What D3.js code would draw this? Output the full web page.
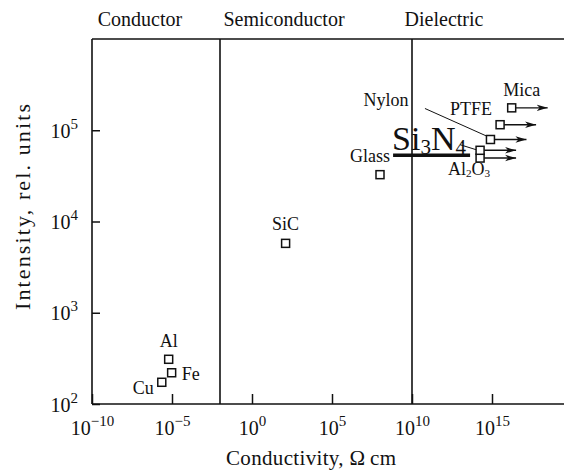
<!DOCTYPE html>
<html>
<head>
<meta charset="utf-8">
<script src="https://cdn.jsdelivr.net/npm/d3@7/dist/d3.min.js"></script>
<style>
  html, body { margin: 0; padding: 0; background: #fff; }
  svg { display: block; }
  text { font-family: "Liberation Serif", "Times New Roman", serif; fill: #111; }
</style>
</head>
<body>
<svg id="chart" width="564" height="470"></svg>
<script>
// Materials: resistivity (Ω cm) and emission intensity (rel. units)
const materials   = ["Cu", "Fe", "Al", "SiC", "Glass", "Al2O3", "Si3N4", "Nylon", "PTFE", "Mica"];
const resistivity = [2.3e-6, 9.5e-6, 6.2e-6, 126, 1.0e8, 1.8e14, 1.8e14, 8.0e14, 3.2e15, 1.7e16];
const intensity   = [173, 220, 309, 5760, 32600, 49600, 60300, 79200, 115000, 176000];
// true where the resistivity is only a lower bound (drawn with an arrow)
const lowerBound  = [false, false, false, false, false, true, true, true, true, true];

// Material classes: names, where each name sits, and the class boundaries
const regions       = ["Conductor", "Semiconductor", "Dielectric"];
const regionCentres = [1e-7, 1e2, 1e12];
const regionBounds  = [1e-2, 1e10];

// Axis decades
const xTickExps = [-10, -5, 0, 5, 10, 15];
const yTickExps = [2, 3, 4, 5];

const plotL = 92, plotR = 564, plotT = 39, plotB = 404;

const svg = d3.select("#chart");

const x = d3.scaleLog().domain([1e-10, Math.pow(10, 19.5)]).range([plotL, plotR]);
const y = d3.scaleLog().domain([1e2, 1e6]).range([plotB, plotT]);

const minus = "\u2212";
function powerLabel(sel, exp, baseSize, supSize, rise) {
  sel.text(null);
  sel.append("tspan").text("10").attr("font-size", baseSize);
  sel.append("tspan").text(exp < 0 ? minus + Math.abs(exp) : String(exp))
     .attr("font-size", supSize).attr("dy", -rise);
}

// x axis ticks (inward) and labels
const gx = svg.append("g").attr("transform", `translate(0,${plotB})`)
  .call(d3.axisBottom(x).tickValues(xTickExps.map(e => Math.pow(10, e)))
        .tickSize(-10).tickSizeOuter(0));
gx.select(".domain").remove();
gx.selectAll(".tick line").attr("stroke", "#111").attr("stroke-width", 1.5);
gx.selectAll(".tick text")
  .attr("y", 31).attr("dy", null).attr("text-anchor", "middle")
  .attr("font-family", null).attr("font-size", null).attr("fill", "#111")
  .each(function(d, i) { powerLabel(d3.select(this), xTickExps[i], 20, 15, 9); });
gx.attr("font-family", null).attr("font-size", null);

// y axis ticks (inward) and labels
const gy = svg.append("g").attr("transform", `translate(${plotL},0)`)
  .call(d3.axisLeft(y).tickValues(yTickExps.map(e => Math.pow(10, e)))
        .tickSize(-8).tickSizeOuter(0));
gy.select(".domain").remove();
gy.selectAll(".tick line").attr("stroke", "#111").attr("stroke-width", 1.5);
gy.selectAll(".tick text")
  .attr("x", -14).attr("dy", null).attr("y", 7).attr("text-anchor", "end")
  .attr("font-family", null).attr("font-size", null).attr("fill", "#111")
  .each(function(d, i) { powerLabel(d3.select(this), yTickExps[i], 20, 15, 9); });
gy.attr("font-family", null).attr("font-size", null);

// Frame: left, bottom and top edges (open on the right)
const frame = svg.append("g").attr("stroke", "#111").attr("stroke-width", 1.6).attr("fill", "none");
frame.append("line").attr("x1", plotL).attr("x2", plotL).attr("y1", plotT).attr("y2", plotB);
frame.append("line").attr("x1", plotL).attr("x2", plotR).attr("y1", plotB).attr("y2", plotB);
frame.append("line").attr("x1", plotL).attr("x2", plotR).attr("y1", plotT).attr("y2", plotT);

// Class boundaries
frame.selectAll("line.bound").data(regionBounds).join("line").attr("class", "bound")
  .attr("x1", d => x(d)).attr("x2", d => x(d)).attr("y1", plotT).attr("y2", plotB);

// Class names above the frame
svg.selectAll("text.region").data(regions).join("text").attr("class", "region")
  .attr("x", (d, i) => x(regionCentres[i])).attr("y", 26)
  .attr("text-anchor", "middle").attr("font-size", 20).text(d => d);

// Axis titles
svg.append("text").attr("x", 311).attr("y", 465).attr("text-anchor", "middle")
  .attr("font-size", 21).attr("textLength", 170).attr("lengthAdjust", "spacing")
  .text("Conductivity, \u03A9\u2009cm");
svg.append("text").attr("transform", "translate(30,207) rotate(-90)")
  .attr("text-anchor", "middle").attr("font-size", 22)
  .attr("textLength", 206).attr("lengthAdjust", "spacing")
  .text("Intensity, rel. units");

// Arrowhead for lower-bound values
svg.append("defs").append("marker")
  .attr("id", "arrow").attr("markerUnits", "userSpaceOnUse")
  .attr("markerWidth", 14).attr("markerHeight", 10)
  .attr("refX", 11).attr("refY", 0).attr("viewBox", "0 -5 14 10")
  .attr("orient", "auto")
  .append("path").attr("d", "M0,-3.2L11,0L0,3.2L3,0Z").attr("fill", "#111");

const pts = materials.map((m, i) => ({
  name: m, cx: x(resistivity[i]), cy: y(intensity[i]), open: lowerBound[i]
}));

const S = 8;           // square marker size
const arrowLen = 32;   // arrow length beyond the marker

// Arrows
svg.append("g").selectAll("line").data(pts.filter(p => p.open)).join("line")
  .attr("x1", p => p.cx + S / 2).attr("x2", p => p.cx + S / 2 + arrowLen)
  .attr("y1", p => p.cy).attr("y2", p => p.cy)
  .attr("stroke", "#111").attr("stroke-width", 1.4)
  .attr("marker-end", "url(#arrow)");

// Leader lines from labels to their markers
const leaders = {
  "Nylon": [-65.5, -31, -4, -3.5],
  "Si3N4": [-20, -5.6, -4, -0.6]
};
svg.append("g").selectAll("line").data(pts.filter(p => leaders[p.name])).join("line")
  .attr("x1", p => p.cx + leaders[p.name][0]).attr("y1", p => p.cy + leaders[p.name][1])
  .attr("x2", p => p.cx + leaders[p.name][2]).attr("y2", p => p.cy + leaders[p.name][3])
  .attr("stroke", "#111").attr("stroke-width", 1);

// Square markers
svg.append("g").selectAll("rect").data(pts).join("rect")
  .attr("x", p => p.cx - S / 2).attr("y", p => p.cy - S / 2)
  .attr("width", S).attr("height", S)
  .attr("fill", "#fff").attr("stroke", "#111").attr("stroke-width", 1.5);

// Material labels: offset from the marker, anchor, and font size
const labelStyle = {
  "Cu":    { dx: -8,  dy: 12,  anchor: "end",    size: 18 },
  "Fe":    { dx: 10,  dy: 7,   anchor: "start",  size: 18 },
  "Al":    { dx: 0,   dy: -12, anchor: "middle", size: 18 },
  "SiC":   { dx: 0,   dy: -13, anchor: "middle", size: 18 },
  "Glass": { dx: 10,  dy: -13, anchor: "end",    size: 18 },
  "Al2O3": { dx: -11, dy: 17,  anchor: "middle", size: 18 },
  "Si3N4": { dx: -88, dy: 0,   anchor: "start",  size: 34 },
  "Nylon": { dx: -82, dy: -33, anchor: "end",    size: 18 },
  "PTFE":  { dx: -8,  dy: -10, anchor: "end",    size: 18 },
  "Mica":  { dx: 10,  dy: -12, anchor: "middle", size: 18 }
};

// Chemical formulae with digit subscripts
function formula(sel, name, size) {
  const parts = name.match(/[A-Za-z]+|\d+/g);
  let lowered = false;
  parts.forEach(part => {
    const isSub = /^\d+$/.test(part);
    const t = sel.append("tspan").text(part);
    if (isSub) {
      t.attr("font-size", size * 0.62).attr("dy", lowered ? 0 : size * 0.12);
      lowered = true;
    } else {
      t.attr("font-size", size).attr("dy", lowered ? -size * 0.12 : 0);
      lowered = false;
    }
  });
}

svg.append("g").selectAll("text").data(pts).join("text")
  .attr("x", p => p.cx + labelStyle[p.name].dx)
  .attr("y", p => p.cy + labelStyle[p.name].dy)
  .attr("text-anchor", p => labelStyle[p.name].anchor)
  .each(function(p) { formula(d3.select(this), p.name, labelStyle[p.name].size); });

// Heavy rule under the Si3N4 label
const si = pts.find(p => p.name === "Si3N4");
svg.append("line")
  .attr("x1", si.cx - 87).attr("x2", si.cx - 10)
  .attr("y1", si.cy + 5).attr("y2", si.cy + 5)
  .attr("stroke", "#111").attr("stroke-width", 3.5);
</script>
</body>
</html>
